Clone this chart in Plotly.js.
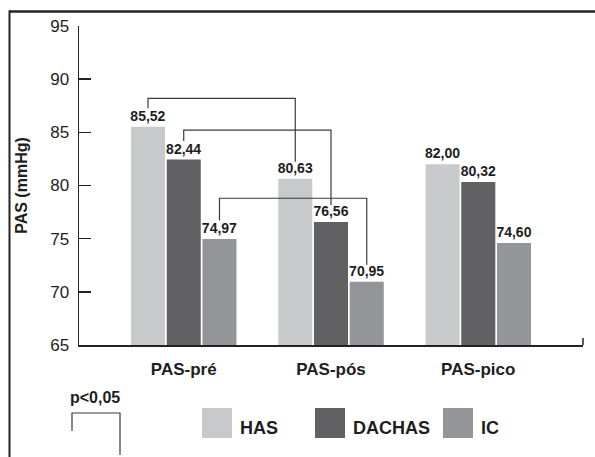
<!DOCTYPE html>
<html>
<head>
<meta charset="utf-8">
<script src="https://cdn.plot.ly/plotly-3.0.1.min.js"></script>
<style>html,body{margin:0;padding:0;background:#fff}#chart{width:595px;height:457px}</style>
</head>
<body>
<div id="chart"></div>
<script>
// ---- data ----
var categories = ["PAS-pré", "PAS-pós", "PAS-pico"];
var seriesNames = ["HAS", "DACHAS", "IC"];
var hasValues = [85.52, 80.63, 82.00];
var dachasValues = [82.44, 76.56, 80.32];
var icValues = [74.97, 70.95, 74.60];
// significance brackets: [series index, from category, to category, bracket level]
var bracketSeries = [0, 1, 2];
var bracketFrom = [0, 0, 0];
var bracketTo = [1, 1, 1];
var bracketLevel = [88.2, 85.2, 78.8];
var yTicks = [65, 70, 75, 80, 85, 90, 95];
var pLabel = "p<0,05";

// ---- style ----
var colors = ["#c8c9cb", "#616163", "#949599"];
var allValues = [hasValues, dachasValues, icValues];
var FONT = "Liberation Sans, Arial, Helvetica, sans-serif";
var W = 595, H = 457;
var M = {l: 79, r: 12, t: 26, b: 112};
var plotW = W - M.l - M.r, plotH = H - M.t - M.b;
function pxX(x){ return (x - M.l) / plotW; }
function pxY(y){ return (H - M.b - y) / plotH; }

var bargap = 0.272, bargroupgap = 0.047;
var slot = (1 - bargap) / 3;

var traces = allValues.map(function(vals, i){
  return {
    type: "bar",
    x: categories,
    y: vals,
    name: seriesNames[i],
    marker: {color: colors[i], line: {width: 0}},
    texttemplate: "%{y:.2f}",
    textposition: "outside",
    constraintext: "none",
    textfont: {family: FONT, size: 14, color: "#1e1e1e", weight: "bold"},
    cliponaxis: false,
    showlegend: false,
    hoverinfo: "skip"
  };
});

var shapes = [];
var annotations = [];
// frame
shapes.push({type: "line", xref: "paper", yref: "paper", x0: pxX(9), x1: pxX(600), y0: pxY(11.5), y1: pxY(11.5), line: {color: "#222", width: 2.5}});
shapes.push({type: "line", xref: "paper", yref: "paper", x0: pxX(9.5), x1: pxX(9.5), y0: pxY(10.5), y1: pxY(460), line: {color: "#222", width: 2}});
// small tick at right end of x axis
shapes.push({type: "line", xref: "paper", yref: "paper", x0: 1, x1: 1, y0: 0, y1: pxY(338), line: {color: "#222", width: 1.5}});

// significance brackets
bracketSeries.forEach(function(s, k){
  var off = (s - 1) * slot;
  var xa = bracketFrom[k] + off, xb = bracketTo[k] + off;
  var ya = allValues[s][bracketFrom[k]] + 1.75;
  var yb = allValues[s][bracketTo[k]] + 1.6;
  var top = bracketLevel[k];
  shapes.push({type: "path", xref: "x", yref: "y",
    path: "M " + xa + "," + ya + " L " + xa + "," + top + " L " + xb + "," + top + " L " + xb + "," + yb,
    line: {color: "#3a3a3a", width: 1.2}});
});

// custom legend
var legendX = [202, 315, 443];
seriesNames.forEach(function(n, i){
  shapes.push({type: "rect", xref: "paper", yref: "paper",
    x0: pxX(legendX[i]), x1: pxX(legendX[i] + 30), y0: pxY(438), y1: pxY(408),
    fillcolor: colors[i], line: {width: 0}});
  annotations.push({xref: "paper", yref: "paper", x: pxX(legendX[i] + 36), y: pxY(428),
    xanchor: "left", yanchor: "middle", text: n, showarrow: false,
    font: {family: FONT, size: 18, color: "#1e1e1e", weight: "bold"}});
});

// p<0,05 key
annotations.push({xref: "paper", yref: "paper", x: pxX(95), y: pxY(397), xanchor: "center", yanchor: "middle",
  text: pLabel, showarrow: false, font: {family: FONT, size: 16, color: "#1e1e1e", weight: "bold"}});
shapes.push({type: "path", xref: "paper", yref: "paper",
  path: "M " + pxX(72) + "," + pxY(431) + " L " + pxX(72) + "," + pxY(413) + " L " + pxX(120) + "," + pxY(413) + " L " + pxX(120) + "," + pxY(455),
  line: {color: "#3a3a3a", width: 1.2}});

var layout = {
  width: W, height: H,
  margin: M,
  paper_bgcolor: "#fff", plot_bgcolor: "#fff",
  separators: ",.",
  barmode: "group",
  bargap: bargap, bargroupgap: bargroupgap,
  font: {family: FONT, color: "#1e1e1e"},
  showlegend: false,
  uniformtext: {mode: false},
  xaxis: {
    type: "category",
    range: [-0.711, 2.711],
    showline: true, linecolor: "#222", linewidth: 1.5,
    ticks: "", showgrid: false, zeroline: false,
    tickfont: {family: FONT, size: 17, color: "#1e1e1e", weight: "bold"},
    ticklabelstandoff: 8,
    fixedrange: true
  },
  yaxis: {
    range: [65, 95],
    tickvals: yTicks,
    showline: true, linecolor: "#222", linewidth: 1.5,
    ticks: "inside", ticklen: 12, tickwidth: 1.5, tickcolor: "#222",
    showgrid: false, zeroline: false,
    tickfont: {family: FONT, size: 17, color: "#1e1e1e"},
    ticklabelstandoff: 5,
    title: {text: "PAS (mmHg)", font: {family: FONT, size: 16, color: "#1e1e1e", weight: "bold"}, standoff: 18},
    fixedrange: true
  },
  shapes: shapes,
  annotations: annotations
};

Plotly.newPlot("chart", traces, layout, {displayModeBar: false, staticPlot: true});
</script>
</body>
</html>
